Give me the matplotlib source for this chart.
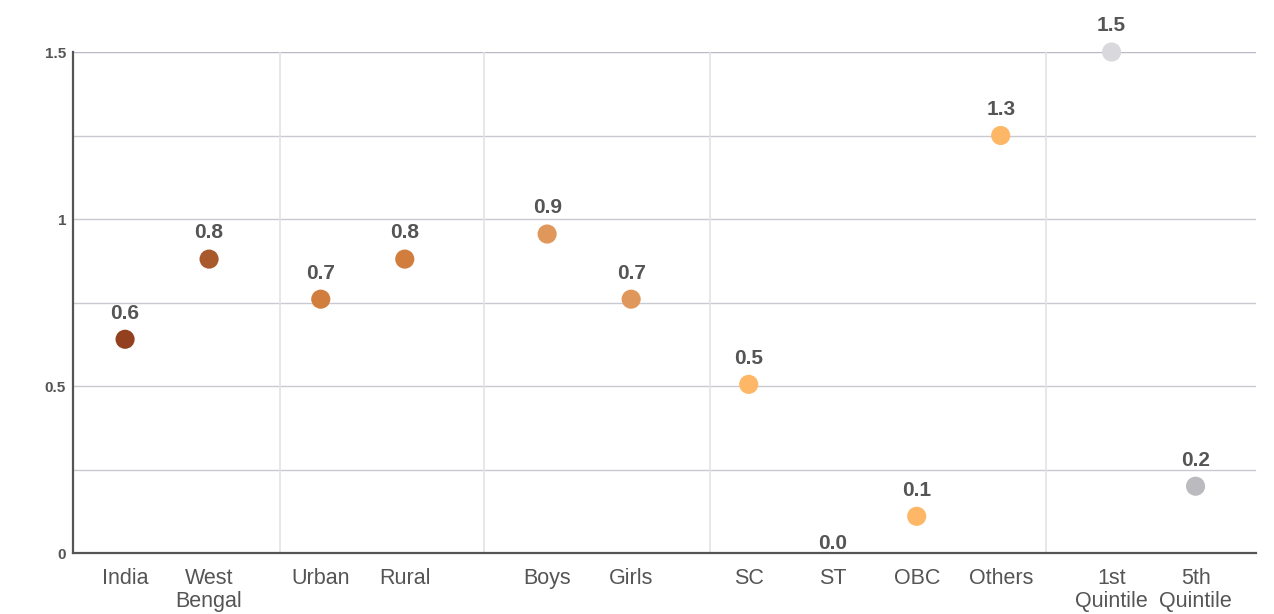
import matplotlib
matplotlib.use('Agg')
import matplotlib.pyplot as plt
import numpy as np

plt.rcParams['font.family'] = ['Liberation Sans', 'DejaVu Sans']

# categories, grouped
categories = ['India', 'West\nBengal', 'Urban', 'Rural', 'Boys', 'Girls',
              'SC', 'ST', 'OBC', 'Others', '1st\nQuintile', '5th\nQuintile']
groups     = [0, 0, 1, 1, 2, 2, 3, 3, 3, 3, 4, 4]
values     = [0.64, 0.88, 0.76, 0.88, 0.955, 0.76, 0.505, -0.05, 0.11, 1.25, 1.5, 0.2]
labels     = ['0.6', '0.8', '0.7', '0.8', '0.9', '0.7', '0.5', '0.0', '0.1', '1.3', '1.5', '0.2']
colors     = ['#93401f', '#a95a2c', '#d07d3e', '#d07d3e', '#e0975c', '#e0975c',
              '#fdb766', '#fdb766', '#fdb766', '#fdb766', '#d9d9dd', '#bbbbbf']

# extra space before each group and divider nudges (layout only)
group_gaps = [0.0, 0.33, 0.695, 0.4, 0.32]
divider_nudge = [0.18, 0.1, 0.24, -0.12]
groups = np.array(groups)
x = np.arange(len(categories)) + np.cumsum(group_gaps)[groups]
values = np.array(values)

fig = plt.figure(figsize=(12.74, 6.14), dpi=100)
ax = fig.add_axes([0.0573, 0.0993, 0.9286, 0.816])

# horizontal grid
for yv in np.arange(0.25, 1.51, 0.25):
    ax.axhline(yv, color='#c9c9d2' if yv < 1.5 else '#b8b8c8', lw=1, zorder=0)

# group dividers
for g in range(groups.max()):
    mid = (x[groups == g].max() + x[groups == g + 1].min()) / 2
    ax.axvline(mid + divider_nudge[g], color='#e3e3e6', lw=1.2, zorder=0)

vis = values >= 0
ax.scatter(x[vis], values[vis], s=190, c=np.array(colors)[vis], zorder=3,
           clip_on=False, linewidths=0)

for xi, v, lab in zip(x, values, labels):
    ax.annotate(lab, (xi, v), xytext=(0, 12), textcoords='offset points',
                ha='center', va='bottom', fontsize=15, fontweight='bold',
                color='#555555', annotation_clip=False)

ax.set_xlim(-0.62, 13.465)
ax.set_ylim(0, 1.5)
ax.set_xticks(x)
ax.set_xticklabels(categories, fontsize=15.5, color='#555555', linespacing=1.12)
ax.set_yticks([0, 0.5, 1, 1.5])
ax.set_yticklabels(['0', '0.5', '1', '1.5'], fontsize=11, fontweight='bold',
                   color='#555555')
ax.tick_params(axis='both', length=0)
ax.tick_params(axis='x', pad=11)
ax.tick_params(axis='y', pad=5)

for s in ['top', 'right']:
    ax.spines[s].set_visible(False)
for s in ['left', 'bottom']:
    ax.spines[s].set_color('#555555')
    ax.spines[s].set_linewidth(1.6)

fig.savefig('out.png', dpi=100, facecolor='white')
